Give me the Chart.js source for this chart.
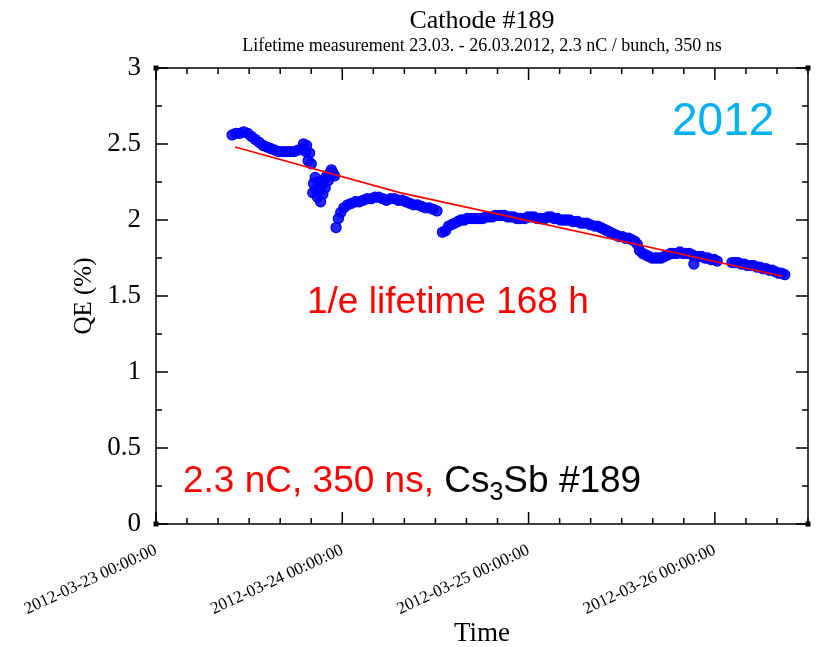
<!DOCTYPE html>
<html>
<head>
<meta charset="utf-8">
<title>Cathode #189</title>
<script src="https://cdn.jsdelivr.net/npm/chart.js@4.4.1/dist/chart.umd.min.js"></script>
<style>
  html, body { margin: 0; padding: 0; background: #fff; }
</style>
</head>
<body>
<canvas id="qe" width="819" height="647"></canvas>
<script>
// horas desde 2012-03-23 00:00 y QE medida (%)
const horas = [
  9.8, 10.3, 10.8, 11.3, 11.8, 12.3, 12.8, 13.3, 13.8, 14.3, 14.8, 15.3, 15.8, 16.3, 16.8, 17.3, 17.8, 18.3, 18.8, 19.0, 19.3, 19.4, 19.6, 19.8, 20.0,
  20.2, 20.3, 20.5, 20.6, 20.8, 20.9, 21.1, 21.2, 21.4, 21.5, 21.7, 21.8, 22.0, 22.2, 22.4, 22.6, 22.8, 23.0,
  23.2, 23.5, 23.8, 24.2, 24.7, 25.2, 25.7, 26.2, 26.7, 27.2, 27.7, 28.2, 28.7, 29.2, 29.7, 30.2, 30.7, 31.2, 31.7, 32.2, 32.7, 33.2, 33.7, 34.2, 34.7, 35.2, 35.7, 36.2,
  36.9, 37.3, 37.7, 38.1, 38.5, 38.9, 39.3, 39.7, 40.1, 40.5, 40.9, 41.3, 41.7, 42.1, 42.5, 42.9, 43.3, 43.7, 44.1, 44.5, 44.9, 45.3, 45.7, 46.1, 46.5, 46.9,
  47.5, 47.9, 48.3, 48.7, 49.1, 49.5, 50.1, 50.5, 50.9, 51.3, 51.7, 52.1, 52.5, 52.9, 53.3, 53.7, 54.3, 54.7, 55.1, 55.5, 55.9, 56.5, 56.9, 57.3, 57.7,
  58.1, 58.5, 58.9, 59.3, 59.7, 60.1, 60.5, 60.9, 61.3, 61.7, 62.0,
  62.3, 62.7, 63.1, 63.5, 63.9, 64.3, 64.7, 65.1, 65.5, 65.9, 66.3, 66.7, 67.1, 67.5, 67.9, 68.3, 68.7, 69.1, 69.3, 69.5, 69.9, 70.3, 70.7, 71.1, 71.5, 71.9, 72.3,
  74.2, 74.6, 75.0, 75.4, 75.8, 76.2, 76.6, 77.0, 77.4, 77.8, 78.2, 78.6, 79.0, 79.4, 79.8, 80.2, 80.6, 81.0
]
const qe = [
  2.56, 2.57, 2.57, 2.58, 2.57, 2.55, 2.53, 2.51, 2.49, 2.48, 2.47, 2.46, 2.45, 2.45, 2.45, 2.45, 2.45, 2.46, 2.47, 2.50, 2.45, 2.49, 2.39, 2.44, 2.37,
  2.18, 2.24, 2.28, 2.20, 2.15, 2.25, 2.20, 2.12, 2.23, 2.17, 2.27, 2.21, 2.29, 2.26, 2.31, 2.33, 2.31, 2.29,
  1.95, 2.01, 2.05, 2.08, 2.10, 2.11, 2.12, 2.12, 2.13, 2.14, 2.14, 2.15, 2.15, 2.14, 2.13, 2.14, 2.14, 2.13, 2.13, 2.12, 2.11, 2.10, 2.10, 2.09, 2.08, 2.08, 2.07, 2.06,
  1.92, 1.93, 1.96, 1.97, 1.98, 1.99, 2.00, 2.00, 2.01, 2.01, 2.01, 2.01, 2.01, 2.01, 2.02, 2.02, 2.02, 2.03, 2.03, 2.03, 2.03, 2.02, 2.02, 2.02, 2.01, 2.01,
  2.01, 2.02, 2.02, 2.02, 2.01, 2.01, 2.01, 2.02, 2.02, 2.01, 2.01, 2.00, 2.00, 2.00, 2.00, 1.99, 1.99, 1.98, 1.98, 1.98, 1.97, 1.96, 1.96, 1.95, 1.94,
  1.93, 1.92, 1.91, 1.90, 1.89, 1.89, 1.88, 1.88, 1.87, 1.86, 1.84,
  1.80, 1.78, 1.77, 1.76, 1.75, 1.75, 1.75, 1.75, 1.76, 1.77, 1.78, 1.78, 1.78, 1.79, 1.78, 1.78, 1.78, 1.77, 1.71, 1.76, 1.76, 1.76, 1.75, 1.75, 1.74, 1.74, 1.73,
  1.72, 1.72, 1.72, 1.71, 1.71, 1.70, 1.70, 1.70, 1.69, 1.69, 1.68, 1.68, 1.67, 1.67, 1.66, 1.65, 1.65, 1.64
]

// ajuste exponencial, vida 1/e = 168 h
const ajusteHoras = [10.2, 31.4, 80.7]
const ajusteQE = [2.48, 2.18, 1.63]

const etiquetasDias = ['2012-03-23 00:00:00', '2012-03-24 00:00:00', '2012-03-25 00:00:00', '2012-03-26 00:00:00']

const serif = 'Liberation Serif'
const sans = 'Liberation Sans'

const puntos = horas.map((h, i) => ({x: h, y: qe[i]}))
const ajuste = ajusteHoras.map((h, i) => ({x: h, y: ajusteQE[i]}))

// marco con marcas hacia dentro en los cuatro lados
const marco = {
    id: 'marco',
    afterDatasetsDraw(chart) {
        const ctx = chart.ctx
        const a = chart.chartArea
        const sx = chart.scales.x
        const sy = chart.scales.y
        ctx.save()
        ctx.strokeStyle = '#000'
        ctx.lineWidth = 1.5
        ctx.strokeRect(a.left, a.top, a.right - a.left, a.bottom - a.top)
        ctx.beginPath()
        for (let h = 0; h <= 84; h += 4) {
            const px = sx.getPixelForValue(h)
            const largo = h % 24 === 0 ? 12 : 6
            ctx.moveTo(px, a.bottom); ctx.lineTo(px, a.bottom - largo)
            ctx.moveTo(px, a.top); ctx.lineTo(px, a.top + largo)
        }
        for (let v = 0; v <= 3.001; v += 0.25) {
            const py = sy.getPixelForValue(v)
            const mayor = Math.abs(v * 2 - Math.round(v * 2)) < 1e-6
            ctx.moveTo(a.left, py); ctx.lineTo(a.left + (mayor ? 12 : 6), py)
            ctx.moveTo(a.right, py); ctx.lineTo(a.right - (mayor ? 12 : 6), py)
        }
        ctx.stroke()
        ctx.fillStyle = '#000'
        for (const [cx, cy] of [[a.left, a.top], [a.right, a.top], [a.left, a.bottom], [a.right, a.bottom]]) {
            ctx.fillRect(cx - 2.5, cy - 2.5, 5, 5)
        }
        ctx.restore()
    },
    afterDraw(chart) {
        const ctx = chart.ctx
        const a = chart.chartArea
        const centro = (a.left + a.right) / 2
        ctx.save()
        ctx.textBaseline = 'alphabetic'
        ctx.fillStyle = '#000'
        ctx.textAlign = 'center'
        ctx.font = '26px "' + serif + '"'
        ctx.fillText('Cathode #189', centro, 28)
        ctx.font = '18px "' + serif + '"'
        ctx.fillText('Lifetime measurement 23.03. - 26.03.2012, 2.3 nC / bunch, 350 ns', centro, 51)

        ctx.textAlign = 'left'
        ctx.fillStyle = '#00b0f0'
        ctx.font = '46px "' + sans + '"'
        ctx.fillText('2012', 672, 135)

        ctx.fillStyle = '#ff0000'
        ctx.font = '37px "' + sans + '"'
        ctx.fillText('1/e lifetime 168 h', 307, 313)

        let x = 183
        const base = 492
        ctx.font = '37px "' + sans + '"'
        const rojo = '2.3 nC, 350 ns, '
        ctx.fillText(rojo, x, base)
        x += ctx.measureText(rojo).width
        ctx.fillStyle = '#000'
        ctx.fillText('Cs', x, base)
        x += ctx.measureText('Cs').width
        ctx.font = '25px "' + sans + '"'
        ctx.fillText('3', x, base + 8)
        x += ctx.measureText('3').width
        ctx.font = '37px "' + sans + '"'
        ctx.fillText('Sb #189', x, base)
        ctx.restore()
    }
}

const grafica = new Chart(document.getElementById('qe'), {
    type: 'scatter',
    data: {
        datasets: [
            {
                label: 'ajuste',
                data: ajuste,
                showLine: true,
                borderColor: '#ff0000',
                borderWidth: 1.6,
                pointRadius: 0,
                order: 0
            },
            {
                label: 'QE',
                data: puntos,
                pointStyle: 'circle',
                pointRadius: 5,
                pointBorderWidth: 1.3,
                borderColor: '#0000ff',
                backgroundColor: 'rgba(0, 0, 255, 0.85)',
                order: 1
            }
        ]
    },
    options: {
        responsive: false,
        animation: false,
        layout: {padding: {top: 68, right: 11, left: 0, bottom: 0}},
        plugins: {legend: {display: false}, tooltip: {enabled: false}},
        scales: {
            x: {
                type: 'linear',
                min: 0,
                max: 84,
                grid: {display: false},
                border: {display: false},
                ticks: {
                    stepSize: 24,
                    includeBounds: false,
                    autoSkip: false,
                    minRotation: 25,
                    maxRotation: 25,
                    padding: 8,
                    color: '#000',
                    font: {family: serif, size: 17},
                    callback: v => etiquetasDias[v / 24]
                },
                title: {display: true, text: 'Time', color: '#000', font: {family: serif, size: 27, lineHeight: 1}, padding: {top: 0, bottom: 0}},
                afterFit: s => { s.height = 123 }
            },
            y: {
                min: 0,
                max: 3,
                grid: {display: false},
                border: {display: false},
                ticks: {
                    stepSize: 0.5,
                    padding: 7,
                    color: '#000',
                    font: {family: serif, size: 27},
                    callback: v => String(v)
                },
                title: {display: true, text: 'QE (%)', color: '#000', font: {family: serif, size: 25}, padding: {top: 69, bottom: 0}},
                afterFit: s => { s.width = 156 }
            }
        }
    },
    plugins: [marco]
})
</script>
</body>
</html>
